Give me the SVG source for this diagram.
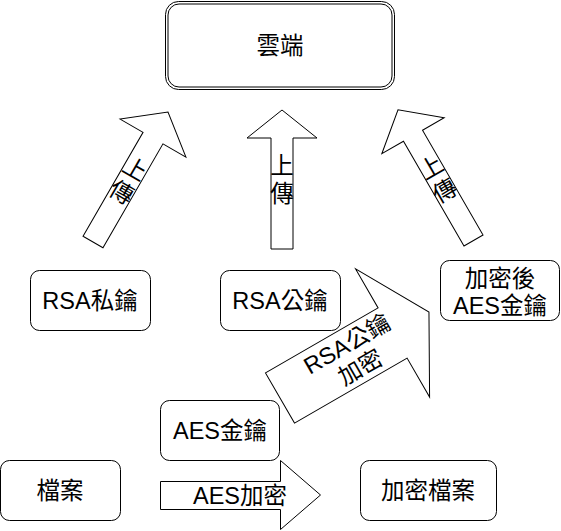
<svg xmlns="http://www.w3.org/2000/svg" width="561" height="531" viewBox="0 0 561 531">
<style>
.box{fill:#fff;stroke:#000;stroke-width:1}
.arr{fill:#fff;stroke:#000;stroke-width:1;stroke-linejoin:miter}
.t{font-family:"Liberation Sans","Noto Sans CJK TC",sans-serif;font-size:23.5px;fill:#000;text-anchor:middle}
</style>
<rect width="561" height="531" fill="#fff"/>
<g id="connectors">
  <g id="arrow-upload-left" transform="translate(93,242) rotate(30)">
    <path class="arr" d="M-11.5,0 V-120 H-38 L0,-150 L38,-120 H11.5 V0 Z"/>
    <text class="t" x="0" y="-76">上</text>
    <text class="t" x="0" y="-49">傳</text>
  </g>
  <g id="arrow-upload-center" transform="translate(282,249)">
    <path class="arr" d="M-11,0 V-111 H-35 L0,-139 L35,-111 H11 V0 Z"/>
    <text class="t" x="0" y="-75">上</text>
    <text class="t" x="0" y="-47">傳</text>
  </g>
  <g id="arrow-upload-right" transform="translate(473.5,240.5) rotate(-30)">
    <path class="arr" d="M-11,0 V-121 H-36 L0,-151 L36,-121 H11 V0 Z"/>
    <text class="t" x="0" y="-76">上</text>
    <text class="t" x="0" y="-49">傳</text>
  </g>
  <g id="arrow-rsa-encrypt" transform="translate(280,398) rotate(-30)">
    <path class="arr" d="M0,-29 H130 V-74 L172,0 L130,74 V29 H0 Z"/>
    <text class="t" x="85" y="-5">RSA公鑰</text>
    <text class="t" x="85" y="22">加密</text>
  </g>
  <g id="arrow-aes-encrypt">
    <path class="arr" d="M160.5,481.5 H280.5 V460.5 L320.5,495 L280.5,529.5 V509.5 H160.5 Z"/>
    <text class="t" x="240" y="503.5">AES加密</text>
  </g>
</g>
<g id="node-cloud">
  <rect class="box" x="165.5" y="1.5" width="229" height="88" rx="13"/>
  <rect class="box" x="168" y="4" width="224" height="83" rx="11"/>
  <text class="t" x="280" y="53.5">雲端</text>
</g>
<g id="node-rsa-private">
  <rect class="box" x="30.5" y="270.5" width="120" height="60" rx="9"/>
  <text class="t" x="90" y="308.5">RSA私鑰</text>
</g>
<g id="node-rsa-public">
  <rect class="box" x="220.5" y="270.5" width="120" height="60" rx="9"/>
  <text class="t" x="280" y="308.5">RSA公鑰</text>
</g>
<g id="node-encrypted-aes-key">
  <rect class="box" x="440.5" y="260.5" width="119" height="60" rx="9"/>
  <text class="t" x="500" y="286.5">加密後</text>
  <text class="t" x="500" y="313.5">AES金鑰</text>
</g>
<g id="node-aes-key">
  <rect class="box" x="160.5" y="400.5" width="119" height="60" rx="9"/>
  <text class="t" x="220" y="438.5">AES金鑰</text>
</g>
<g id="node-file">
  <rect class="box" x="0.5" y="460.5" width="120" height="60" rx="9"/>
  <text class="t" x="60" y="498.5">檔案</text>
</g>
<g id="node-encrypted-file">
  <rect class="box" x="360.5" y="460.5" width="136" height="60" rx="9"/>
  <text class="t" x="428" y="498.5">加密檔案</text>
</g>
</svg>
